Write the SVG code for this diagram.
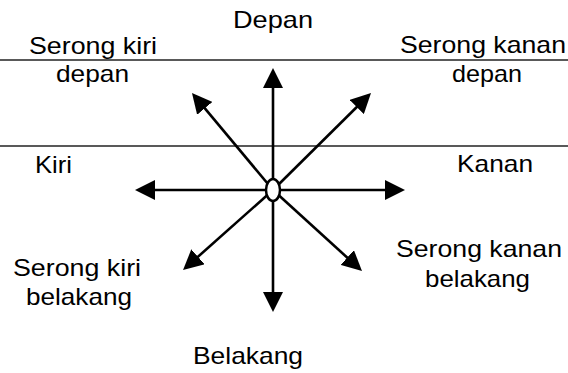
<svg xmlns="http://www.w3.org/2000/svg" width="568" height="373" viewBox="0 0 568 373">
<style>
text{font-family:"Liberation Sans",Arial,sans-serif;font-size:24px;fill:#000}
.rule{stroke:#222;stroke-width:1.5}
.arr{stroke:#000;stroke-width:2.6;fill:none;marker-end:url(#ah)}
</style>
<defs>
<marker id="ah" markerUnits="userSpaceOnUse" markerWidth="20" markerHeight="20" refX="10" refY="10" orient="auto">
<path d="M0,0 L20,10 L0,20 z" fill="#000"/>
</marker>
</defs>
<g id="rules">
<line class="rule" x1="0" y1="60" x2="568" y2="60"/>
<line class="rule" x1="0" y1="146" x2="568" y2="146"/>
</g>
<g id="connectors">
<line class="arr" x1="273" y1="190" x2="273" y2="78"/>
<line class="arr" x1="273" y1="190" x2="273" y2="302"/>
<line class="arr" x1="273" y1="190" x2="145" y2="190"/>
<line class="arr" x1="273" y1="190" x2="395" y2="190"/>
<line class="arr" x1="273" y1="190" x2="198.4" y2="100.7"/>
<line class="arr" x1="273" y1="190" x2="363.9" y2="100"/>
<line class="arr" x1="273" y1="190" x2="190.5" y2="263.4"/>
<line class="arr" x1="273" y1="190" x2="354.6" y2="264.3"/>
</g>
<g id="center"><ellipse cx="273" cy="190" rx="7" ry="11" fill="#fff" stroke="#000" stroke-width="2.5"/></g>
<g id="depan"><text x="233" y="28" textLength="80" lengthAdjust="spacingAndGlyphs">Depan</text></g>
<g id="serong-kiri-depan">
<text x="29" y="54" textLength="128" lengthAdjust="spacingAndGlyphs">Serong kiri</text>
<text x="56" y="82" textLength="73" lengthAdjust="spacingAndGlyphs">depan</text>
</g>
<g id="serong-kanan-depan">
<text x="400" y="53" textLength="166" lengthAdjust="spacingAndGlyphs">Serong kanan</text>
<text x="452" y="82" textLength="70" lengthAdjust="spacingAndGlyphs">depan</text>
</g>
<g id="kiri"><text x="35" y="173" textLength="37" lengthAdjust="spacingAndGlyphs">Kiri</text></g>
<g id="kanan"><text x="457" y="172" textLength="76" lengthAdjust="spacingAndGlyphs">Kanan</text></g>
<g id="serong-kiri-belakang">
<text x="13" y="276" textLength="128" lengthAdjust="spacingAndGlyphs">Serong kiri</text>
<text x="26" y="305" textLength="106" lengthAdjust="spacingAndGlyphs">belakang</text>
</g>
<g id="serong-kanan-belakang">
<text x="396" y="257" textLength="166" lengthAdjust="spacingAndGlyphs">Serong kanan</text>
<text x="425" y="287" textLength="105" lengthAdjust="spacingAndGlyphs">belakang</text>
</g>
<g id="belakang"><text x="193" y="364" textLength="110" lengthAdjust="spacingAndGlyphs">Belakang</text></g>
</svg>
